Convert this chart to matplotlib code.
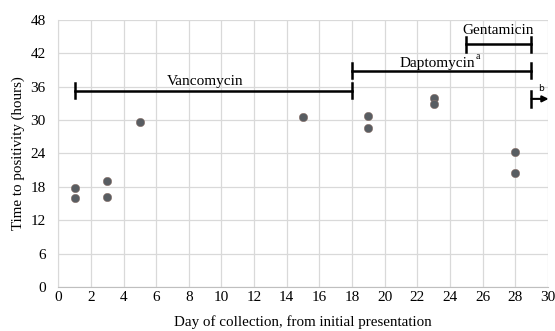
import matplotlib
matplotlib.use("Agg")
import matplotlib.pyplot as plt

# data
days = [1, 1, 3, 3, 5, 15, 19, 19, 23, 23, 28, 28]
hours = [17.7, 15.9, 19.0, 16.1, 29.7, 30.6, 30.7, 28.6, 34.0, 32.9, 24.3, 20.4]

# treatment periods: (label, start day, end day, y level)
drug_names = ["Vancomycin", "Daptomycin", "Gentamicin"]
drug_start = [1, 18, 25]
drug_end = [18, 29, 29]
drug_level = [35.3, 38.9, 43.6]

x_ticks = list(range(0, 31, 2))
y_ticks = list(range(0, 49, 6))

plt.rcParams['font.family'] = ['Liberation Serif', 'DejaVu Serif']

fig = plt.figure(figsize=(5.55, 3.31), dpi=100)
ax = fig.add_axes([0.105, 0.133, 0.882, 0.807])

ax.set_xlim(0, 30)
ax.set_ylim(0, 48)
ax.set_xticks(x_ticks)
ax.set_yticks(y_ticks)
ax.grid(True, color='#d9d9d9', linewidth=0.9)
ax.set_axisbelow(True)
ax.tick_params(length=0, labelsize=11, pad=3)
ax.tick_params(axis='y', pad=9)
for s in ['top', 'right']:
    ax.spines[s].set_visible(False)
ax.spines['left'].set_color('#d9d9d9')
ax.spines['bottom'].set_color('#bfbfbf')

ax.scatter(days, hours, s=36, marker='o', color='#585d62', zorder=3,
           edgecolors='#8a7068', linewidths=0.4)

cap = 1.35
for name, x0, x1, y in zip(drug_names, drug_start, drug_end, drug_level):
    ax.plot([x0, x1], [y, y], color='black', lw=1.8, zorder=4)
    ax.plot([x0, x0], [y - cap, y + cap], color='black', lw=1.8, zorder=4)
    ax.plot([x1, x1], [y - cap, y + cap], color='black', lw=1.8, zorder=4)

ax.text(9.0, 36.3, "Vancomycin", ha='center', va='baseline', fontsize=11)
ax.text(23.25, 39.6, "Daptomycin", ha='center', va='baseline', fontsize=11)
ax.text(25.6, 41.0, "a", ha='left', va='baseline', fontsize=7)
ax.text(26.95, 45.5, "Gentamicin", ha='center', va='baseline', fontsize=11)

# arrow continuing past end of chart
ax.plot([29, 29], [32.4, 35.2], color='black', lw=1.8, zorder=4, clip_on=False)
ax.annotate("", xy=(30.05, 33.8), xytext=(29, 33.8),
            arrowprops=dict(arrowstyle='-|>', color='black', lw=1.5,
                            mutation_scale=9, shrinkA=0, shrinkB=0),
            annotation_clip=False)
ax.text(29.4, 35.3, "b", fontsize=6.5, family='DejaVu Sans')

ax.set_xlabel("Day of collection, from initial presentation", fontsize=10.8, labelpad=8)
ax.set_ylabel("Time to positivity (hours)", fontsize=10.8, labelpad=4)

fig.savefig("out.png", dpi=100)
